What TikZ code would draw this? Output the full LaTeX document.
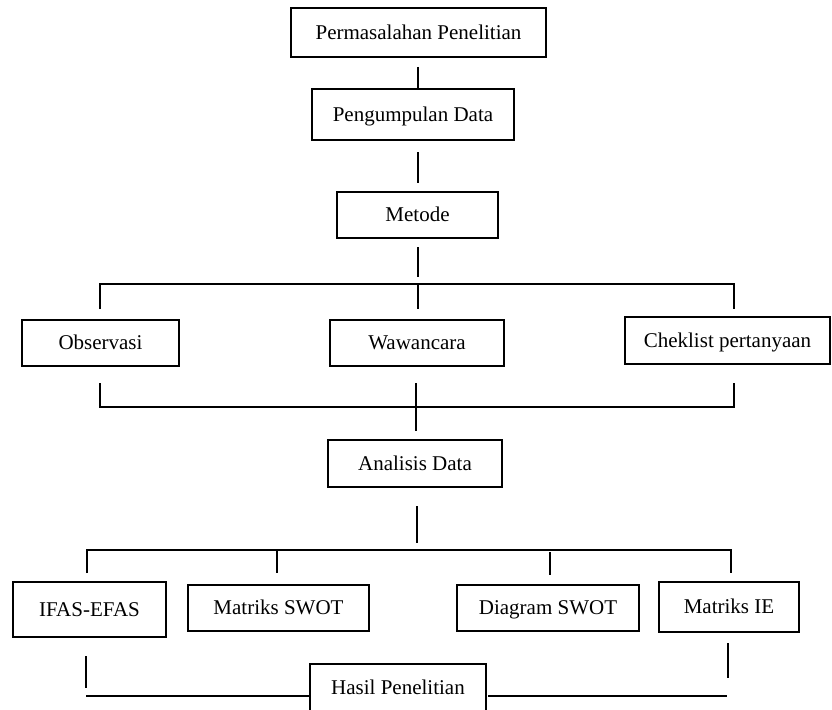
\documentclass[tikz,border=0pt]{standalone}
\usepackage{fontspec}
\setmainfont{Liberation Serif}
\tikzset{
  box/.style={draw, line width=1.1pt, inner sep=0pt, align=center, text height=13.9pt, text depth=0pt, font=\fontsize{21}{25}\selectfont},
  conn/.style={line width=1.4pt},
}
\begin{document}
\begin{tikzpicture}[x=1pt,y=-1pt]
\useasboundingbox (0,0) rectangle (832,709);
% boxes
\node[box, minimum width=255pt, minimum height=49pt] (p1) at (418.5,32.5) {Permasalahan Penelitian};
\node[box, minimum width=202pt, minimum height=51pt] (p2) at (413,114.5) {Pengumpulan Data};
\node[box, minimum width=161pt, minimum height=46pt] (p3) at (417.5,215) {Metode};
\node[box, minimum width=157pt, minimum height=46pt] (obs) at (100.5,343) {Observasi};
\node[box, minimum width=174pt, minimum height=46pt] (waw) at (417,343) {Wawancara};
\node[box, minimum width=205pt, minimum height=47pt] (chk) at (727.5,340.5) {Cheklist pertanyaan};
\node[box, minimum width=174pt, minimum height=47pt] (ana) at (415,463.5) {Analisis Data};
\node[box, minimum width=153pt, minimum height=55pt] (ifas) at (89.5,609.5) {IFAS-EFAS};
\node[box, minimum width=181pt, minimum height=46pt] (msw) at (278.5,608) {Matriks SWOT};
\node[box, minimum width=182pt, minimum height=46pt] (dsw) at (548,608) {Diagram SWOT};
\node[box, minimum width=140pt, minimum height=50pt] (mie) at (729,607) {Matriks IE};
\node[box, minimum width=176pt, minimum height=48pt] (hasil) at (398,688) {Hasil Penelitian};
% coordinates
\coordinate (a1) at (418,67);  \coordinate (a2) at (418,89);
\coordinate (b1) at (418,152); \coordinate (b2) at (418,183);
\coordinate (c1) at (418,247); \coordinate (c2) at (418,277);
\coordinate (h1l) at (100,284); \coordinate (h1m) at (418,284); \coordinate (h1r) at (734,284);
\coordinate (h1lb) at (100,309); \coordinate (h1mb) at (418,309); \coordinate (h1rb) at (734,309);
\coordinate (h2lt) at (100,383); \coordinate (h2rt) at (734,383);
\coordinate (h2l) at (100,407); \coordinate (h2r) at (734,407);
\coordinate (h2mt) at (416,383); \coordinate (h2mb) at (416,431);
\coordinate (d1) at (417,506); \coordinate (d2) at (417,543);
\coordinate (h3l) at (87,550); \coordinate (h3a) at (277,550); \coordinate (h3r) at (731,550);
\coordinate (h3lb) at (87,573); \coordinate (h3ab) at (277,573); \coordinate (h3rb) at (731,573);
\coordinate (h3bt) at (550,552); \coordinate (h3bb) at (550,575);
\coordinate (e1) at (86,656); \coordinate (e1b) at (86,688); \coordinate (e2) at (86,696);
\coordinate (f1) at (728,643); \coordinate (f2) at (728,678);
\coordinate (g1) at (309,696); \coordinate (g2) at (488,696); \coordinate (g3) at (727,696);
% connectors
\draw[conn] (a1) -- (a2);
\draw[conn] (b1) -- (b2);
\draw[conn] (c1) -- (c2);
\draw[conn] (h1lb) -- (h1l) -- (h1r) -- (h1rb);
\draw[conn] (h1m) -- (h1mb);
\draw[conn] (h2lt) -- (h2l) -- (h2r) -- (h2rt);
\draw[conn] (h2mt) -- (h2mb);
\draw[conn] (d1) -- (d2);
\draw[conn] (h3lb) -- (h3l) -- (h3r) -- (h3rb);
\draw[conn] (h3a) -- (h3ab);
\draw[conn] (h3bt) -- (h3bb);
\draw[conn] (e1) -- (e1b);
\draw[conn] (e2) -- (g1);
\draw[conn] (g2) -- (g3);
\draw[conn] (f1) -- (f2);
\end{tikzpicture}
\end{document}
